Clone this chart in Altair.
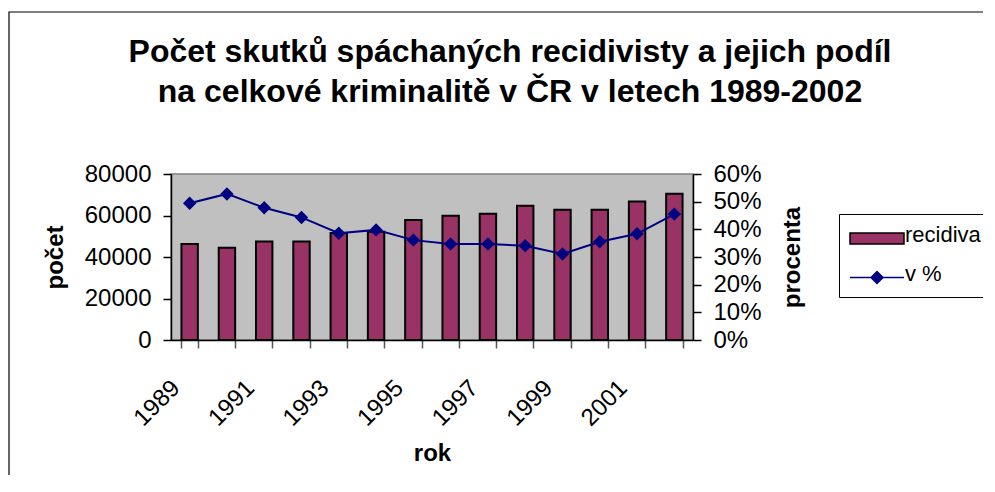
import altair as alt
import pandas as pd

years = [1989, 1990, 1991, 1992, 1993, 1994, 1995, 1996, 1997, 1998, 1999, 2000, 2001, 2002]
counts = [46300, 44500, 47500, 47500, 51600, 52200, 57800, 59900, 60900, 64700, 62800, 62800, 66700, 70500]
share_pct = [49.4, 52.8, 47.8, 44.3, 38.6, 39.8, 36.1, 34.7, 34.7, 34.1, 31.1, 35.5, 38.4, 45.5]
series_names = ["recidiva", "v %"]
title_lines = ["Počet skutků spáchaných recidivisty a jejich podíl",
               "na celkové kriminalitě v ČR v letech 1989-2002"]

df = pd.DataFrame({
    "rok": years,
    "pocet": counts,
    "podil": [v / 100 for v in share_pct],
})
legend_df = pd.DataFrame({"serie": series_names})

FONT = "Liberation Sans"
BAR = "#993366"
NAVY = "#000080"

W, H = 522, 166

x_enc = alt.X(
    "rok:O",
    title="rok",
    scale=alt.Scale(paddingInner=0.56, paddingOuter=0.28),
    axis=alt.Axis(
        labelAngle=-45,
        labelAlign="right",
        labelBaseline="middle",
        labelExpr="datum.value % 2 == 1 ? datum.label : ''",
        labelFont=FONT, labelFontSize=24, labelColor="black",
        labelPadding=36, labelOffset=-14,
        tickBand="extent", tickSize=8, tickColor="#555555", tickWidth=1.5,
        domainColor="black", domainWidth=1.5,
        titleFont=FONT, titleFontSize=24, titleFontWeight="bold", titleColor="black",
        titleX=W / 2, titleY=113, titleBaseline="middle", titleAlign="center",
    ),
)

frame = alt.Chart(pd.DataFrame({"f": [0]})).mark_rect(
    fill=None, stroke="black", strokeWidth=1.2, clip=False
).encode(
    x=alt.value(-162), x2=alt.value(900), y=alt.value(-162), y2=alt.value(400)
)

bars = alt.Chart(df).mark_bar(fill=BAR, stroke="black", strokeWidth=2).encode(
    x=x_enc,
    y=alt.Y(
        "pocet:Q",
        title="počet",
        scale=alt.Scale(domain=[0, 80000]),
        axis=alt.Axis(
            values=[0, 20000, 40000, 60000, 80000], format="d", grid=False,
            labelFont=FONT, labelFontSize=24, labelColor="black", labelPadding=12,
            tickSize=8, tickColor="black", tickWidth=1.5,
            domainColor="black", domainWidth=1.5,
            titleFont=FONT, titleFontSize=24, titleFontWeight="bold", titleColor="black",
            titleAngle=270, titleX=-116, titleY=H / 2, titleBaseline="middle", titleAlign="center",
        ),
    ),
)

y_right = alt.Y(
    "podil:Q",
    title="procenta",
    scale=alt.Scale(domain=[0, 0.6]),
    axis=alt.Axis(
        orient="right",
        values=[0, 0.1, 0.2, 0.3, 0.4, 0.5, 0.6], format=".0%", grid=False,
        labelFont=FONT, labelFontSize=24, labelColor="black", labelPadding=12,
        tickSize=8, tickColor="black", tickWidth=1.5,
        domainColor="black", domainWidth=1.5,
        titleFont=FONT, titleFontSize=24, titleFontWeight="bold", titleColor="black",
        titleAngle=270, titleX=99, titleY=H / 2, titleBaseline="middle", titleAlign="center",
    ),
)

line = alt.Chart(df).mark_line(color=NAVY, strokeWidth=2).encode(x=x_enc, y=y_right)
points = alt.Chart(df).mark_point(
    shape="diamond", filled=True, size=180, color=NAVY, opacity=1
).encode(x=x_enc, y=y_right)

# legend glyphs (path units of 10 px; shifted right so the glyph sits inside the box)
rect_path = "M-1,-0.2H4.4V0.9H-1Z"
line_path = "M-1,0.35H4.4M1.1,0.35L1.7,-0.25L2.3,0.35L1.7,0.95Z"

legend_layer = alt.Chart(legend_df).mark_point(filled=True, opacity=1).encode(
    x=alt.value(-3000),
    y=alt.value(H / 2),
    fill=alt.Fill(
        "serie:N",
        scale=alt.Scale(domain=series_names, range=[BAR, NAVY]),
        legend=alt.Legend(
            title=None, orient="none", legendX=668, legendY=40,
            strokeColor="black", fillColor="white", padding=10,
            symbolSize=400, symbolStrokeWidth=1.5, symbolOpacity=1,
            labelFont=FONT, labelFontSize=22, labelColor="black", labelOffset=34,
            rowPadding=16,
        ),
    ),
    stroke=alt.Stroke("serie:N", scale=alt.Scale(domain=series_names, range=["black", NAVY])),
    shape=alt.Shape("serie:N", scale=alt.Scale(domain=series_names, range=[rect_path, line_path])),
)

right = alt.layer(line, points, legend_layer)

chart = alt.layer(frame, bars, right).resolve_scale(y="independent").properties(
    width=W,
    height=H,
    title=alt.TitleParams(
        text=title_lines, font=FONT, fontSize=32, fontWeight="bold", color="black",
        anchor="middle", frame="group", dx=78, offset=0, dy=130, lineHeight=40, baseline="bottom",
    ),
    autosize=alt.AutoSizeParams(type="none"),
    padding={"left": 163, "top": 166, "right": 290, "bottom": 135},
    background="white",
).configure_view(
    fill="#C0C0C0", stroke="#808080", strokeWidth=1.5
)

chart.save("out.html", embed_options={"renderer": "svg", "actions": False})
